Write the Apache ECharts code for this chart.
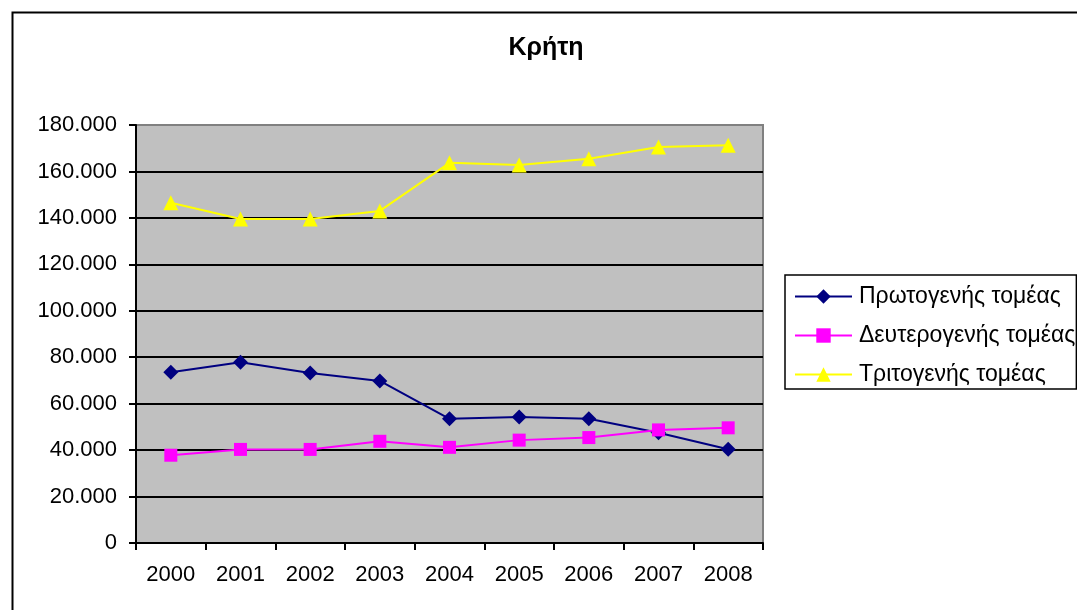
<!DOCTYPE html>
<html>
<head>
<meta charset="utf-8">
<script src="https://cdn.jsdelivr.net/npm/echarts@6/dist/echarts.min.js"></script>
<style>
html,body{margin:0;padding:0;background:#fff;}
#c{width:1077px;height:610px;}
</style>
</head>
<body>
<div id="c"></div>
<script>
var titleText = 'Κρήτη';
var years = ['2000','2001','2002','2003','2004','2005','2006','2007','2008'];
var seriesNames = ['Πρωτογενής τομέας','Δευτερογενής τομέας','Τριτογενής τομέας'];
var primary = [73500, 77800, 73200, 69800, 53500, 54300, 53500, 47500, 40400];
var secondary = [37800, 40300, 40300, 43800, 41200, 44300, 45400, 48700, 49600];
var tertiary = [146500, 139500, 139500, 143000, 163700, 162800, 165500, 170500, 171300];
var yMin = 0, yMax = 180000, yStep = 20000;

function fmt(v){
  return String(v).replace(/\B(?=(\d{3})+(?!\d))/g, '.');
}

var chart = echarts.init(document.getElementById('c'), null, {renderer:'canvas'});
var font = '"Liberation Sans", Arial, sans-serif';
var splitColors = ['#000','#000','#000','#000','#000','#000','#000','#000','#000','#808080'];
chart.setOption({
  backgroundColor: '#ffffff',
  animation: false,
  textStyle: {fontFamily: font},
  graphic: [
    {type:'rect', left:10, top:10, z:100, silent:true,
     shape:{x:0,y:0,width:1200,height:800},
     style:{fill:'none', stroke:'#000', lineWidth:2}},
    {type:'text', x:546, y:48, z:100,
     style:{text:titleText, fill:'#000', fontSize:25, fontWeight:'bold', fontFamily:font,
            textAlign:'center', textVerticalAlign:'middle'}}
  ],
  grid: {
    left:136, right:314, top:125, bottom:67,
    show:true, backgroundColor:'#C0C0C0', borderColor:'#808080', borderWidth:2
  },
  legend: {
    orient:'vertical', left:785, top:275,
    borderColor:'#000', borderWidth:1.5,
    padding:[10, 1, 3, 9],
    itemWidth:57, itemHeight:18, itemGap:16,
    textStyle:{fontFamily:font, fontSize:23, lineHeight:23, color:'#000', padding:[0,0,0,2]},
    data: seriesNames
  },
  xAxis: {
    type:'category', data:years, boundaryGap:true,
    axisLine:{show:true, lineStyle:{color:'#000', width:2}},
    axisTick:{show:true, length:7, inside:false, lineStyle:{color:'#000', width:2}},
    axisLabel:{fontSize:22, color:'#000', margin:21, fontFamily:font},
    splitLine:{show:false}
  },
  yAxis: {
    type:'value', min:yMin, max:yMax, interval:yStep,
    axisLine:{show:true, lineStyle:{color:'#000', width:2}},
    axisTick:{show:true, length:7, lineStyle:{color:'#000', width:2}},
    axisLabel:{fontSize:22, color:'#000', margin:19, fontFamily:font, formatter:function(v){return fmt(v);}},
    splitLine:{show:true, lineStyle:{color:splitColors, width:2}}
  },
  series: [
    {name:seriesNames[0], type:'line', data:primary, symbol:'diamond', symbolSize:[15,15],
     itemStyle:{color:'#000080'}, lineStyle:{color:'#000080', width:2}},
    {name:seriesNames[1], type:'line', data:secondary, symbol:'rect', symbolSize:13,
     itemStyle:{color:'#FF00FF'}, lineStyle:{color:'#FF00FF', width:2}},
    {name:seriesNames[2], type:'line', data:tertiary, symbol:'triangle', symbolSize:15,
     itemStyle:{color:'#FFFF00'}, lineStyle:{color:'#FFFF00', width:2}}
  ]
});
</script>
</body>
</html>
